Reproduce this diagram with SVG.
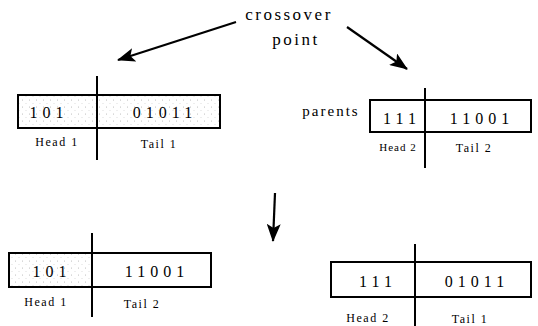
<svg xmlns="http://www.w3.org/2000/svg" width="538" height="326" viewBox="0 0 538 326">
<defs>
<pattern id="speck" width="7" height="7" patternUnits="userSpaceOnUse">
<rect width="7" height="7" fill="#fff"/>
<circle cx="1.5" cy="2" r="0.5" fill="#aaa"/>
<circle cx="5" cy="5.5" r="0.45" fill="#bbb"/>
</pattern>
<marker id="ahl" markerWidth="18" markerHeight="14" refX="17" refY="7" orient="auto" markerUnits="userSpaceOnUse" viewBox="0 0 18 14">
<path d="M0,0 L18,7 L0,14 L4,7 Z" fill="#000"/>
</marker>
</defs>
<style>
.box{fill:#fff;stroke:#000;stroke-width:2}
.div{stroke:#000;stroke-width:2}
.bits{font-family:"Liberation Serif",serif;font-size:16px;letter-spacing:5px;text-anchor:middle;fill:#000}
.lbl{font-family:"Liberation Serif",serif;font-size:12px;letter-spacing:1.5px;text-anchor:middle;fill:#000}
.big{font-family:"Liberation Serif",serif;font-size:17px;letter-spacing:2.5px;text-anchor:middle;fill:#000}
.arr{stroke:#000;stroke-width:2.2;fill:none}
</style>
<g id="title">
<text class="big" x="289" y="20">crossover</text>
<text class="big" x="296" y="45">point</text>
</g>
<g id="parents-label">
<text class="big" x="331" y="116" style="font-size:15px;letter-spacing:2px">parents</text>
</g>
<g id="connectors">
<line class="arr" x1="236" y1="22" x2="118" y2="60" marker-end="url(#ahl)"/>
<line class="arr" x1="347" y1="27" x2="407" y2="69" marker-end="url(#ahl)"/>
<line class="arr" x1="275" y1="193" x2="273" y2="241" marker-end="url(#ahl)"/>
</g>
<g id="parent1">
<rect class="box" x="18" y="95" width="202" height="33" style="fill:url(#speck)"/>
<line class="div" x1="97" y1="76" x2="97" y2="160"/>
<text class="bits" x="49" y="118">101</text>
<text class="bits" x="165" y="118">01011</text>
<text class="lbl" x="57" y="146">Head 1</text>
<text class="lbl" x="159" y="148">Tail 1</text>
</g>
<g id="parent2">
<rect class="box" x="370" y="100" width="161" height="32"/>
<line class="div" x1="425" y1="88" x2="425" y2="168"/>
<text class="bits" x="402" y="124">111</text>
<text class="bits" x="482" y="124">11001</text>
<text class="lbl" x="398" y="151" style="font-size:11px;letter-spacing:1px">Head 2</text>
<text class="lbl" x="474" y="152">Tail 2</text>
</g>
<g id="child1">
<rect class="box" x="9" y="253" width="202" height="34"/>
<rect x="10" y="254" width="81" height="32" fill="url(#speck)"/>
<line class="div" x1="92" y1="233" x2="92" y2="317"/>
<text class="bits" x="52" y="277">101</text>
<text class="bits" x="157" y="277">11001</text>
<text class="lbl" x="46" y="306">Head 1</text>
<text class="lbl" x="142" y="308">Tail 2</text>
</g>
<g id="child2">
<rect class="box" x="331" y="262" width="200" height="35"/>
<line class="div" x1="415" y1="244" x2="415" y2="326"/>
<text class="bits" x="378" y="287">111</text>
<text class="bits" x="477" y="287">01011</text>
<text class="lbl" x="368" y="322">Head 2</text>
<text class="lbl" x="470" y="323">Tail 1</text>
</g>
</svg>
